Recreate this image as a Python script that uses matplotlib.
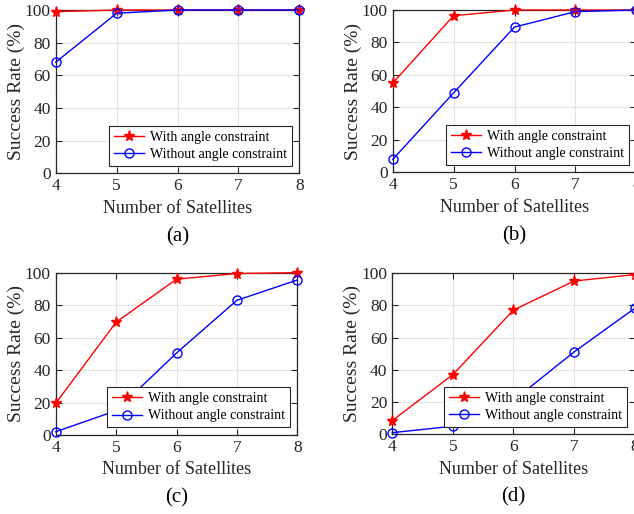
import numpy as np
import matplotlib.pyplot as plt

plt.rcParams['font.family'] = ['Liberation Serif', 'DejaVu Serif']

# data
sats = [4, 5, 6, 7, 8]
with_a = [99, 100, 100, 100, 100]
without_a = [68, 98, 100, 100, 100]
with_b = [55, 96.5, 100, 100, 100]
without_b = [8, 49, 89.5, 99, 100]
with_c = [19.5, 69.5, 96, 99.5, 100]
without_c = [2, 15, 50.5, 83, 95.5]
with_d = [8.5, 37, 77, 95, 99]
without_d = [1, 5, 21, 51, 78]
panel_labels = ['(a)', '(b)', '(c)', '(d)']

W, H = 634, 514
fig = plt.figure(figsize=(W / 100, H / 100), dpi=100)

# axes boxes in pixels: left, top, right, bottom
boxes = [(55.7, 10, 299.3, 173.3),
         (392.7, 10, 636.3, 172.5),
         (55.7, 272.7, 297.3, 435),
         (392.3, 273, 634.5, 434.3)]
series = [(with_a, without_a), (with_b, without_b),
          (with_c, without_c), (with_d, without_d)]

for (l, t, r, b), (w, wo), lab in zip(boxes, series, panel_labels):
    ax = fig.add_axes([l / W, 1 - b / H, (r - l) / W, (b - t) / H])
    ax.plot(sats, w, color='red', lw=1, marker='*', ms=8,
            label='With angle constraint', clip_on=False, zorder=3)
    ax.plot(sats, wo, color='blue', lw=1, marker='o', ms=6.5, mfc='none',
            mew=1, label='Without angle constraint', clip_on=False, zorder=3)
    ax.set_xlim(4, 8)
    ax.set_ylim(0, 100)
    ax.set_xticks(sats)
    ax.set_yticks(np.arange(0, 101, 20))
    ax.grid(True, color='#e3e3e3', lw=0.8)
    ax.set_axisbelow(True)
    ax.tick_params(direction='in', top=True, right=True, labelsize=12.5,
                   length=4, width=0.8, colors='#262626', pad=3.5)
    for s in ax.spines.values():
        s.set_color('#262626')
        s.set_linewidth(0.9)
    ax.set_xlabel('Number of Satellites', fontsize=13, color='#262626', labelpad=4)
    ax.set_ylabel('Success Rate (%)', fontsize=14, color='#262626', labelpad=0)
    leg = ax.legend(loc='lower right', fontsize=10, frameon=True, fancybox=False,
                    edgecolor='#262626', framealpha=1, borderpad=0.35,
                    labelspacing=0.3, handlelength=2.2, handletextpad=0.4,
                    borderaxespad=0.55)
    leg.get_frame().set_linewidth(0.8)
    leg.set_zorder(5)
    ax.text(0.5, -0.33, lab, transform=ax.transAxes, ha='center', va='top',
            fontsize=15)

fig.savefig('out.png', dpi=100)
